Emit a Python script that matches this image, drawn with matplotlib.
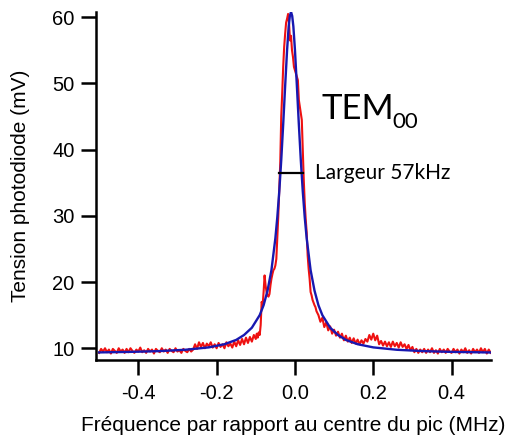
import matplotlib
matplotlib.use('Agg')
import matplotlib.pyplot as plt
import numpy as np

plt.rcParams['font.family'] = ['Liberation Sans', 'DejaVu Sans']

baseline_left_y = [9.3, 9.9, 9.5, 10.0, 9.4, 9.8, 9.2, 9.9, 9.6, 9.3, 10.0, 9.5, 9.8, 9.3,
                   9.9, 9.4, 10.0, 9.6, 9.3, 9.8, 9.5, 10.1, 9.4, 9.7, 9.3, 9.9, 9.5, 9.8,
                   9.2, 9.9, 9.6, 9.4, 10.0, 9.5, 9.8, 9.3, 9.9, 9.6, 9.4, 10.0, 9.5, 9.7,
                   9.3, 9.9, 9.6, 9.4, 9.9, 9.5, 9.8]
shoulder_left_y = [10.6, 9.9, 10.9, 10.2, 10.8, 10.0, 10.7, 10.3, 10.9, 10.1, 10.6, 10.0,
                   10.8, 10.2, 10.6, 10.0, 10.9, 10.3, 10.7, 10.1, 11.0, 10.3, 11.2, 10.5,
                   11.4, 10.6, 11.6, 10.8, 11.7, 11.0, 12.0]
peak_y = [11.4, 12.2, 11.6, 12.4, 12.0, 13.5, 17.0, 16.5, 18.5, 21.0, 19.5, 18.5, 18.0,
          17.8, 18.2, 19.5, 20.5, 21.2, 21.8, 22.0, 22.5, 23.5, 26.8, 30.0, 34.0, 38.0,
          45.0, 48.5, 52.5, 55.5, 57.5, 59.2, 59.8, 60.5, 59.0, 56.5, 57.2, 55.0, 54.0,
          52.5, 52.0, 51.5, 51.0, 50.5, 47.5, 46.5, 45.5, 44.5, 40.0, 35.5, 32.0, 29.5,
          27.5, 24.0, 22.0, 20.5, 18.5, 18.0, 17.3, 16.9, 16.5, 16.2, 15.6, 15.3, 15.0]
tail_right_y = [14.0, 14.6, 13.2, 13.9, 12.7, 13.3, 12.2, 12.8, 11.9, 12.5, 11.6, 12.2,
                11.2, 11.9, 11.0, 11.6, 10.8, 11.5, 10.7, 11.3, 10.6, 11.2, 10.7, 11.4,
                11.0, 12.0, 11.3, 12.2, 11.2, 11.9, 10.6, 11.1, 10.4, 11.0, 10.3, 10.9,
                10.2, 11.0, 10.3, 10.8, 10.1, 10.9, 10.2, 10.6, 9.9, 10.5, 9.7, 10.2, 9.4,
                9.9, 9.3, 9.8, 9.4, 9.9, 9.3, 9.8, 9.4, 10.0, 9.3, 9.7, 9.2, 9.9, 9.4, 9.8,
                9.3, 9.9, 9.5, 9.3, 9.9, 9.4, 9.8, 9.2, 9.8, 9.4, 10.0, 9.3, 9.7, 9.2, 9.9,
                9.4, 9.8, 9.3, 10.0, 9.4, 9.9, 9.2, 9.8, 9.3]

freq_red = np.concatenate([
    np.linspace(-0.500, -0.260, len(baseline_left_y)),
    np.linspace(-0.255, -0.105, len(shoulder_left_y)),
    np.linspace(-0.100, 0.060, len(peak_y)),
    np.linspace(0.065, 0.500, len(tail_right_y)),
])
tension_red = np.array(baseline_left_y + shoulder_left_y + peak_y + tail_right_y)

# fitted curve (blue)
freq_fit = [-0.50, -0.42, -0.35, -0.28, -0.22, -0.18, -0.15, -0.13, -0.11, -0.09, -0.08,
            -0.07, -0.06, -0.05, -0.045, -0.04, -0.035, -0.03, -0.025, -0.02, -0.016,
            -0.013, -0.010, -0.007, -0.004, 0.0, 0.005, 0.01, 0.015, 0.02, 0.025, 0.03,
            0.04, 0.05, 0.06, 0.07, 0.09, 0.11, 0.13, 0.16, 0.20, 0.26, 0.33, 0.40, 0.50]
tension_fit = [9.37, 9.45, 9.56, 9.77, 10.13, 10.61, 11.26, 12.0, 13.1, 15.0, 16.5,
               18.7, 21.8, 26.6, 29.8, 33.7, 38.4, 43.8, 49.6, 55.1, 58.6,
               60.2, 60.8, 60.2, 58.6, 55.1, 49.6, 43.8, 38.4, 33.7, 29.8, 26.6,
               21.8, 18.7, 16.5, 15.0, 13.1, 12.0, 11.26, 10.61, 10.13, 9.77, 9.56, 9.45, 9.36]

# width marker
width_x = [-0.040, 0.021]
width_y = 36.4

fig = plt.figure(figsize=(5.08, 4.43), dpi=100)
ax = fig.add_axes([0.189, 0.187, 0.777, 0.786])

ax.plot(freq_red, tension_red, color='#ee1111', lw=1.5)
ax.plot(freq_fit, tension_fit, color='#1818b0', lw=1.7)
ax.plot(width_x, [width_y, width_y], color='black', lw=1.6)

ax.text(0.067, 44.7, 'TEM', fontsize=25, family='Lato')
ax.text(0.248, 43.2, '00', fontsize=16, family='Lato')
ax.text(0.052, width_y, 'Largeur 57kHz', fontsize=15, family='Lato', va='center')

ax.set_xlim(-0.508, 0.500)
ax.set_ylim(8.2, 60.8)
ax.set_xticks([-0.4, -0.2, 0.0, 0.2, 0.4])
ax.set_xticklabels(['-0.4', '-0.2', '0.0', '0.2', '0.4'])
ax.set_yticks([10, 20, 30, 40, 50, 60])

for side in ['top', 'right']:
    ax.spines[side].set_visible(False)
for side in ['left', 'bottom']:
    ax.spines[side].set_linewidth(1.8)

ax.tick_params(direction='out', length=10.5, width=1.8, labelsize=14.5)
ax.tick_params(axis='x', pad=7)
ax.tick_params(axis='y', pad=5)

ax.set_xlabel('Fréquence par rapport au centre du pic (MHz)', fontsize=15)
ax.set_ylabel('Tension photodiode (mV)', fontsize=15)
ax.xaxis.set_label_coords(0.5, -0.16)
ax.yaxis.set_label_coords(-0.167, 0.5)

fig.savefig('out.png', dpi=100)
